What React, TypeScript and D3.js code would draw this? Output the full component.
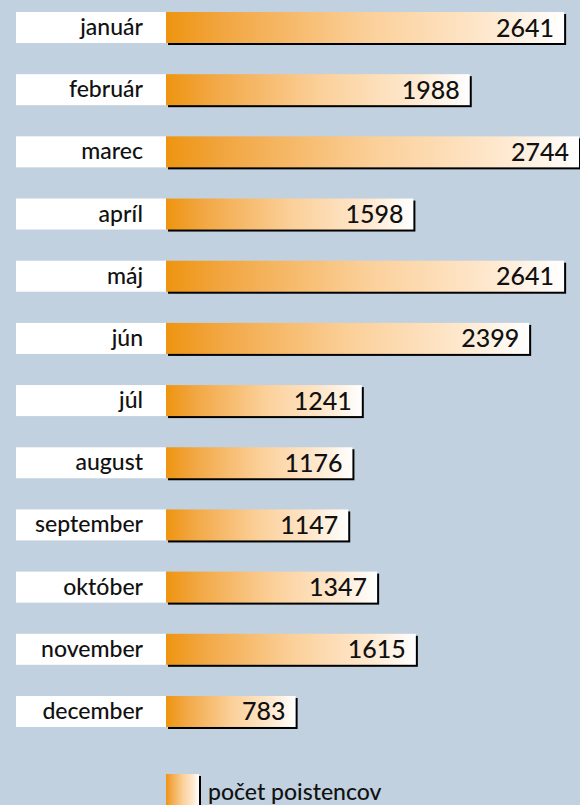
import React from "react";
import * as d3 from "d3";

const months = ["január", "február", "marec", "apríl", "máj", "jún", "júl", "august", "september", "október", "november", "december"];
const values = [2641, 1988, 2744, 1598, 2641, 2399, 1241, 1176, 1147, 1347, 1615, 783];
const legendLabel = "počet poistencov";

const W = 580;
const H = 805;

export default function App() {
  const x = d3.scaleLinear().domain([-114, 2744]).range([166, 579]);
  const bh = 31;
  const pitch = 62.18;
  const font = "Lato, 'Open Sans', sans-serif";
  return (
    <svg width={W} height={H} style={{ position: "absolute", left: 0, top: 0, background: "#c1d1df" }}>
      <defs>
        <linearGradient id="barGrad" x1="0" x2="1" y1="0" y2="0">
          <stop offset="0" stopColor="#ee9410" />
          <stop offset="0.15" stopColor="#f2a743" />
          <stop offset="0.5" stopColor="#fbcf98" />
          <stop offset="0.8" stopColor="#fee7cc" />
          <stop offset="1" stopColor="#ffffff" />
        </linearGradient>
      </defs>
      <rect x={0} y={0} width={W} height={H} fill="#c1d1df" />
      {months.map((m, i) => {
        const y0 = 12 + i * pitch;
        const x0 = x(-114);
        const x1 = x(values[i]);
        return (
          <g key={m}>
            <rect x={16} y={y0} width={150} height={bh} fill="#ffffff" />
            <text x={143} y={y0 + bh / 2 + 7.5} textAnchor="end" fontFamily={font} fontSize={23} fontWeight={500} fill="#111">
              {m}
            </text>
            <rect x={x0 + 2} y={y0 + 2} width={x1 - x0} height={bh} fill="#000" />
            <rect x={x0} y={y0} width={x1 - x0} height={bh} fill="url(#barGrad)" />
            <text x={x1 - 10} y={y0 + bh / 2 + 9} textAnchor="end" fontFamily={font} fontSize={25} fontWeight={500} fill="#111">
              {values[i]}
            </text>
          </g>
        );
      })}
      <g>
        <rect x={168} y={776} width={33} height={40} fill="#000" />
        <rect x={166} y={774} width={33} height={40} fill="url(#barGrad)" />
        <text x={208} y={800} fontFamily={font} fontSize={23} fontWeight={500} fill="#111">
          {legendLabel}
        </text>
      </g>
    </svg>
  );
}
